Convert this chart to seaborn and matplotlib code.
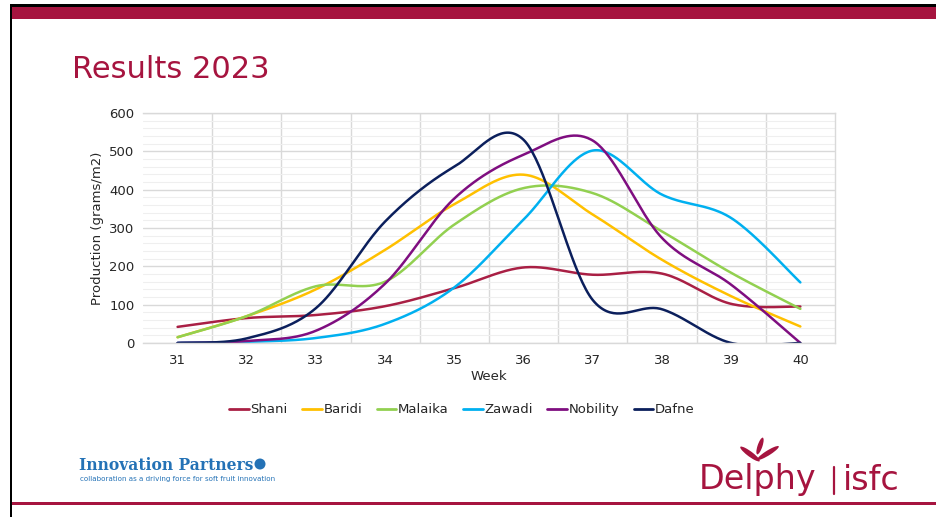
import numpy as np
import pandas as pd
import matplotlib.pyplot as plt
import seaborn as sns
from matplotlib.patches import Rectangle, Ellipse
from matplotlib.lines import Line2D

weeks = [31, 32, 33, 34, 35, 36, 37, 38, 39, 40]
shani = [42, 65, 73, 96, 143, 197, 178, 181, 102, 95]
baridi = [15, 70, 140, 243, 362, 439, 335, 217, 122, 43]
malaika = [15, 70, 148, 160, 309, 404, 391, 291, 183, 89]
zawadi = [0, 3, 13, 50, 145, 322, 502, 387, 326, 158]
nobility = [0, 5, 32, 155, 377, 491, 528, 274, 152, 0]
dafne = [0, 12, 91, 317, 460, 530, 112, 88, 0, 0]

series = {
    "Shani": shani,
    "Baridi": baridi,
    "Malaika": malaika,
    "Zawadi": zawadi,
    "Nobility": nobility,
    "Dafne": dafne,
}
colors = {
    "Shani": "#A91F44",
    "Baridi": "#FFC000",
    "Malaika": "#92D050",
    "Zawadi": "#00B0F0",
    "Nobility": "#7F0E80",
    "Dafne": "#0B1F5C",
}

crimson = "#A6143F"
ip_blue = "#2472B6"


def smooth(x, y, n=40):
    # Excel-style smoothed line (Catmull-Rom through the points)
    pts = np.column_stack([x, y]).astype(float)
    P = np.vstack([pts[0], pts, pts[-1]])
    t = np.linspace(0, 1, n, endpoint=False)[:, None]
    out = []
    for i in range(1, len(P) - 2):
        p0, p1, p2, p3 = P[i - 1], P[i], P[i + 1], P[i + 2]
        c1 = p1 + (p2 - p0) / 6
        c2 = p2 - (p3 - p1) / 6
        out.append((1 - t) ** 3 * p1 + 3 * (1 - t) ** 2 * t * c1
                   + 3 * (1 - t) * t ** 2 * c2 + t ** 3 * p2)
    out.append(pts[-1:])
    return np.vstack(out)


frames = []
for name, vals in series.items():
    c = smooth(weeks, vals)
    frames.append(pd.DataFrame({"x": c[:, 0], "y": c[:, 1], "variety": name}))
df = pd.concat(frames, ignore_index=True)

sns.set_theme(style="white")
plt.rcParams["font.family"] = ["DejaVu Sans"]

fig = plt.figure(figsize=(9.37, 5.17), dpi=100)
ax = fig.add_axes([0.1526, 0.3366, 0.7385, 0.4449])

sns.lineplot(data=df, x="x", y="y", hue="variety", palette=colors, sort=False,
             estimator=None, units="variety", linewidth=1.8, ax=ax, legend=False)

ax.set_xlim(30.5, 40.5)
ax.set_ylim(0, 600)
ax.set_xticks(weeks)
ax.set_xticks(np.arange(31.5, 40.5, 1), minor=True)
ax.set_yticks(range(0, 601, 100))
ax.set_yticks(range(0, 601, 20), minor=True)
ax.grid(True, which="major", axis="y", color="#D9D9D9", linewidth=1)
ax.grid(True, which="minor", axis="y", color="#EFEFEF", linewidth=0.8)
ax.grid(True, which="minor", axis="x", color="#D9D9D9", linewidth=1)
ax.set_axisbelow(True)
ax.tick_params(axis="both", which="both", length=0, labelsize=9.5, colors="#262626")
ax.tick_params(axis="x", pad=8)
ax.tick_params(axis="y", pad=6)
for s in ax.spines.values():
    s.set_color("#D9D9D9")
    s.set_linewidth(1)
ax.spines["left"].set_visible(False)
ax.set_xlabel("Week", fontsize=9.5, color="#262626", labelpad=2)
ax.set_ylabel("Production (grams/m2)", fontsize=9.5, color="#262626", labelpad=4)

handles = [Line2D([0], [0], color=colors[k], lw=2) for k in series]
fig.legend(handles, list(series), loc="center", bbox_to_anchor=(0.493, 0.207),
           ncol=6, frameon=False, fontsize=9.5, handlelength=1.5,
           handletextpad=0.1, columnspacing=1.1)

# slide decoration
W, H = 937, 517
fig.add_artist(Rectangle((11 / W, 1 - 7 / H), 1, 3 / H, transform=fig.transFigure,
                         color="black", lw=0))
fig.add_artist(Rectangle((11 / W, 1 - 19 / H), 1, 12 / H, transform=fig.transFigure,
                         color=crimson, lw=0))
fig.add_artist(Rectangle((10 / W, 0), 2 / W, 1 - 4 / H, transform=fig.transFigure,
                         color="black", lw=0))
fig.add_artist(Rectangle((12 / W, 1 - 505 / H), 1, 3 / H, transform=fig.transFigure,
                         color=crimson, lw=0))

fig.text(72 / W, 1 - 70 / H, "Results 2023", fontsize=22, color=crimson,
         va="center", ha="left")

# Innovation Partners logo
fig.text(79 / W, 1 - 465 / H, "Innovation Partners", fontsize=11.2, color=ip_blue,
         family=["DejaVu Serif"], fontweight="bold", va="center", ha="left")
fig.add_artist(Ellipse((260 / W, 1 - 464 / H), 11 / W, 11 / H,
                       transform=fig.transFigure, color=ip_blue, lw=0))
fig.text(80 / W, 1 - 479 / H, "collaboration as a driving force for soft fruit innovation",
         fontsize=5.1, color=ip_blue, va="center", ha="left")

# Delphy | isfc logo
fig.text(699 / W, 1 - 480 / H, "Delphy", fontsize=24, color=crimson,
         va="center", ha="left")
fig.add_artist(Line2D([834 / W, 834 / W], [1 - 467 / H, 1 - 494 / H],
                      transform=fig.transFigure, color=crimson, lw=1.6))
fig.text(843 / W, 1 - 480 / H, "isfc", fontsize=24, color=crimson,
         va="center", ha="left")
leaf_w, leaf_h = 7 / W, 18 / H
fig.add_artist(Ellipse((750 / W, 1 - 454 / H), leaf_w, leaf_h, angle=35,
                       transform=fig.transFigure, color=crimson, lw=0))
fig.add_artist(Ellipse((768 / W, 1 - 453 / H), leaf_w, leaf_h, angle=-40,
                       transform=fig.transFigure, color=crimson, lw=0))
fig.add_artist(Ellipse((760 / W, 1 - 446 / H), 5 / W, 17 / H, angle=-10,
                       transform=fig.transFigure, color=crimson, lw=0))

fig.savefig("out.png", dpi=100)
